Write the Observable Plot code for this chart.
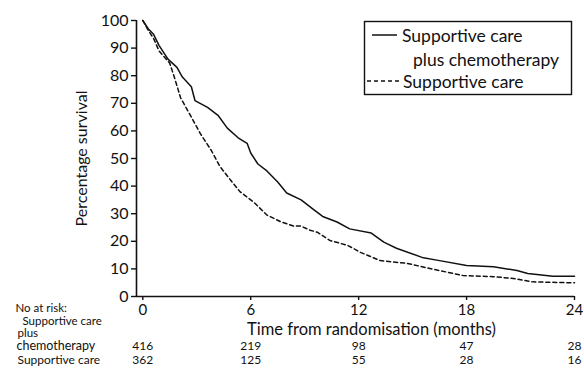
<!DOCTYPE html>
<html>
<head>
<meta charset="utf-8">
<script src="https://cdn.jsdelivr.net/npm/d3@7"></script>
<script src="https://cdn.jsdelivr.net/npm/@observablehq/plot@0.6"></script>
<style>
  body { margin: 0; background: #fff; }
  #wrap { position: relative; width: 584px; height: 391px; font-family: Lato, sans-serif; }
  #legend { position: absolute; left: 0; top: 0; pointer-events: none; }
</style>
</head>
<body>
<div id="wrap"></div>
<script>
// Supportive care plus chemotherapy (solid)
const chemoMonths = [0, 0.3, 0.6, 0.9, 1.4, 1.9, 2.2, 2.7, 2.9, 3.6, 4.2, 4.7, 5.3, 5.8, 6.0, 6.4, 6.9, 7.5, 8.0, 8.8, 9.5, 10.0, 10.8, 11.5, 12.7, 13.4, 14.1, 15.6, 16.5, 18.0, 19.5, 20.8, 21.4, 22.8, 24];
const chemoSurv   = [100, 97, 95, 91, 86, 83, 79.5, 76, 71, 68.5, 65.5, 61, 57.5, 55.5, 52, 48, 45.5, 41.5, 37.5, 35, 31.5, 29, 27, 24.5, 23, 19.7, 17.5, 14, 13, 11.2, 10.8, 9.4, 8.3, 7.3, 7.3];
// Supportive care (dashed)
const careMonths = [0, 0.3, 0.6, 0.9, 1.5, 1.8, 2.1, 2.7, 3.2, 3.8, 4.3, 4.9, 5.4, 6.2, 6.9, 7.7, 8.4, 8.8, 9.3, 9.7, 10.4, 11.4, 12.1, 13.2, 14.7, 16.2, 17.8, 19.5, 20.6, 21.7, 23.6, 24];
const careSurv   = [100, 96.5, 93.5, 89, 84.5, 78.5, 72, 65, 59, 53, 47, 42, 38, 34, 29.5, 27, 25.5, 25.5, 24, 23.3, 20.3, 18.5, 16, 13, 12, 9.8, 7.6, 7.2, 6.5, 5.3, 5, 5];

const riskTimes = [0, 6, 12, 18, 24];
const chemoRisk = [416, 219, 98, 47, 28];
const careRisk  = [362, 125, 55, 28, 16];

const xTicks = [0, 6, 12, 18, 24];
const yTicks = [0, 10, 20, 30, 40, 50, 60, 70, 80, 90, 100];

const seriesNames = ["Supportive care plus chemotherapy", "Supportive care"];
const yLabel = "Percentage survival";
const xLabel = "Time from randomisation (months)";
const tableLabels = ["No at risk:", "Supportive care", "plus", "chemotherapy", "Supportive care"];

const chemo = chemoMonths.map((t, i) => ({t, v: chemoSurv[i]}));
const care = careMonths.map((t, i) => ({t, v: careSurv[i]}));
const chemoRows = riskTimes.map((t, i) => ({t, n: chemoRisk[i]}));
const careRows = riskTimes.map((t, i) => ({t, n: careRisk[i]}));

const xMin = -0.35;
const font = "Lato, sans-serif";
const ink = "#111";

const chart = Plot.plot({
  width: 584,
  height: 391,
  marginLeft: 136,
  marginRight: 10,
  marginTop: 20,
  marginBottom: 95,
  x: {domain: [xMin, 24]},
  y: {domain: [0, 100]},
  style: {fontFamily: font, fontSize: "15px", color: ink, background: "#fff"},
  marks: [
    Plot.axisY(yTicks, {tickSize: 5, tickPadding: 3, fontSize: 16, strokeWidth: 1.4,
      label: yLabel, labelAnchor: "center", labelOffset: 61, labelArrow: "none"}),
    Plot.axisX(xTicks, {tickSize: 4, tickPadding: 4, fontSize: 15, label: null, strokeWidth: 1.4}),
    Plot.ruleX([xMin], {strokeWidth: 1.6, stroke: ink}),
    Plot.ruleY([0], {strokeWidth: 1.6, stroke: ink}),
    Plot.line(chemo, {x: "t", y: "v", stroke: ink, strokeWidth: 1.5}),
    Plot.line(care, {x: "t", y: "v", stroke: ink, strokeWidth: 1.5, strokeDasharray: "4,3"}),
    Plot.text([xLabel], {frameAnchor: "bottom", dx: 16, dy: 38, fontSize: 16.5, fill: ink}),
    Plot.text([tableLabels[0]], {frameAnchor: "bottom-left", textAnchor: "start", dx: -121, dy: 15, fontSize: 11.5, fill: ink}),
    Plot.text([tableLabels[1]], {frameAnchor: "bottom-left", textAnchor: "start", dx: -114, dy: 28.5, fontSize: 11.5, fill: ink}),
    Plot.text([tableLabels[2]], {frameAnchor: "bottom-left", textAnchor: "start", dx: -119, dy: 40.5, fontSize: 11.5, fill: ink}),
    Plot.text([tableLabels[3]], {frameAnchor: "bottom-left", textAnchor: "start", dx: -120, dy: 53, fontSize: 12.5, fill: ink}),
    Plot.text([tableLabels[4]], {frameAnchor: "bottom-left", textAnchor: "start", dx: -119, dy: 67, fontSize: 12, fill: ink}),
    Plot.text(chemoRows, {x: "t", text: "n", frameAnchor: "bottom", dy: 53, fontSize: 12, fill: ink}),
    Plot.text(careRows, {x: "t", text: "n", frameAnchor: "bottom", dy: 67, fontSize: 12, fill: ink})
  ]
});

const wrap = document.getElementById("wrap");
wrap.appendChild(chart);

// Legend overlay
const ns = "http://www.w3.org/2000/svg";
const lg = document.createElementNS(ns, "svg");
lg.setAttribute("id", "legend");
lg.setAttribute("width", 584);
lg.setAttribute("height", 391);
lg.innerHTML = `
  <rect x="364.5" y="21.5" width="207" height="73" fill="#fff" stroke="${ink}" stroke-width="1.4"/>
  <line x1="372" x2="397" y1="35" y2="35" stroke="${ink}" stroke-width="1.5"/>
  <line x1="367" x2="400" y1="81" y2="81" stroke="${ink}" stroke-width="1.5" stroke-dasharray="4,3"/>
`;
function addText(str, x, y) {
  const t = document.createElementNS(ns, "text");
  t.setAttribute("x", x);
  t.setAttribute("y", y);
  t.setAttribute("dominant-baseline", "central");
  t.setAttribute("font-family", font);
  t.setAttribute("font-size", 17.5);
  t.setAttribute("fill", ink);
  t.textContent = str;
  lg.appendChild(t);
}
addText("Supportive care", 402, 35);
addText("plus chemotherapy", 413, 59);
addText(seriesNames[1], 403, 81);
wrap.appendChild(lg);
</script>
</body>
</html>
